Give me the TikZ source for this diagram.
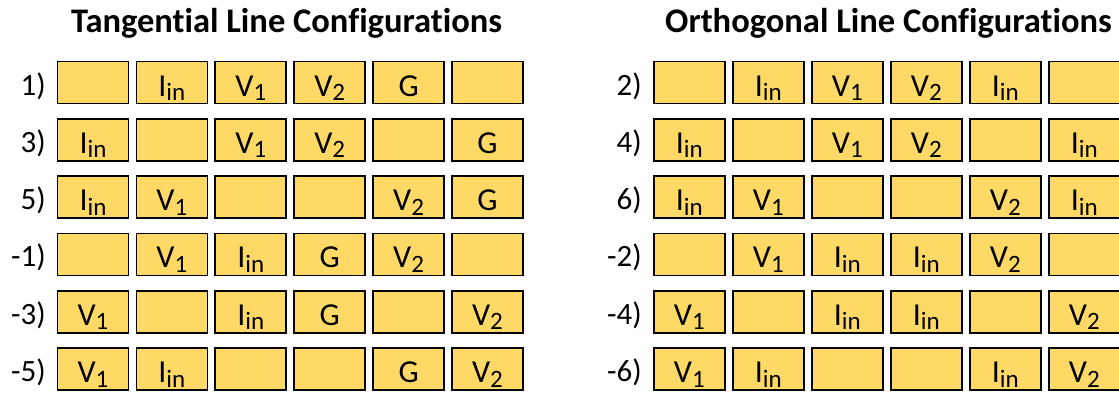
\documentclass[tikz,border=0pt]{standalone}
\usepackage{fontspec}
\setmainfont{Carlito}[Ligatures=NoCommon]
\definecolor{cellfill}{HTML}{FFD966}
% lowered, slightly smaller index text
\newcommand\lowsub[1]{\raisebox{-4.5pt}{\fontsize{25}{25}\selectfont #1}}
\newcommand\Iin{I\lowsub{in}}
\newcommand\Vone{V\lowsub{1}}
\newcommand\Vtwo{V\lowsub{2}}
\begin{document}
\begin{tikzpicture}[x=1pt,y=-1pt,
  cell/.style={draw=black, fill=cellfill, line width=1.7pt,
    minimum width=71pt, minimum height=42pt, inner sep=0pt,
    text height=28pt, text depth=1pt, font=\fontsize{32}{32}\selectfont},
  rowlabel/.style={anchor=base east, inner sep=0pt, font=\fontsize{31}{31}\selectfont},
  heading/.style={anchor=base, inner sep=0pt, font=\bfseries\fontsize{34.5}{34.5}\selectfont}]
\useasboundingbox (0,0) rectangle (1119,392);

\node[heading] (tanTitle)  at (286.5,32) {Tangential Line Configurations};
\node[heading] (orthTitle) at (888.5,32) {Orthogonal Line Configurations};

% tangential configurations (left block)
\foreach [count=\r from 0] \lab/\cells in {
    1)/{{},\Iin,\Vone,\Vtwo,G,{}},
    3)/{\Iin,{},\Vone,\Vtwo,{},G},
    5)/{\Iin,\Vone,{},{},\Vtwo,G},
    -1)/{{},\Vone,\Iin,G,\Vtwo,{}},
    -3)/{\Vone,{},\Iin,G,{},\Vtwo},
    -5)/{\Vone,\Iin,{},{},G,\Vtwo}} {
  \node[rowlabel] (L-\r-lab) at (46,{95+57.3*\r}) {\lab};
  \foreach [count=\j from 0] \t in \cells
    \node[cell] (L-\r-\j) at ({93+78.9*\j},{82.5+57.3*\r}) {\t};
}

% orthogonal configurations (right block)
\foreach [count=\r from 0] \lab/\cells in {
    2)/{{},\Iin,\Vone,\Vtwo,\Iin,{}},
    4)/{\Iin,{},\Vone,\Vtwo,{},\Iin},
    6)/{\Iin,\Vone,{},{},\Vtwo,\Iin},
    -2)/{{},\Vone,\Iin,\Iin,\Vtwo,{}},
    -4)/{\Vone,{},\Iin,\Iin,{},\Vtwo},
    -6)/{\Vone,\Iin,{},{},\Iin,\Vtwo}} {
  \node[rowlabel] (R-\r-lab) at (642,{95+57.3*\r}) {\lab};
  \foreach [count=\j from 0] \t in \cells
    \node[cell] (R-\r-\j) at ({689.3+79*\j},{82.5+57.3*\r}) {\t};
}
\end{tikzpicture}
\end{document}
